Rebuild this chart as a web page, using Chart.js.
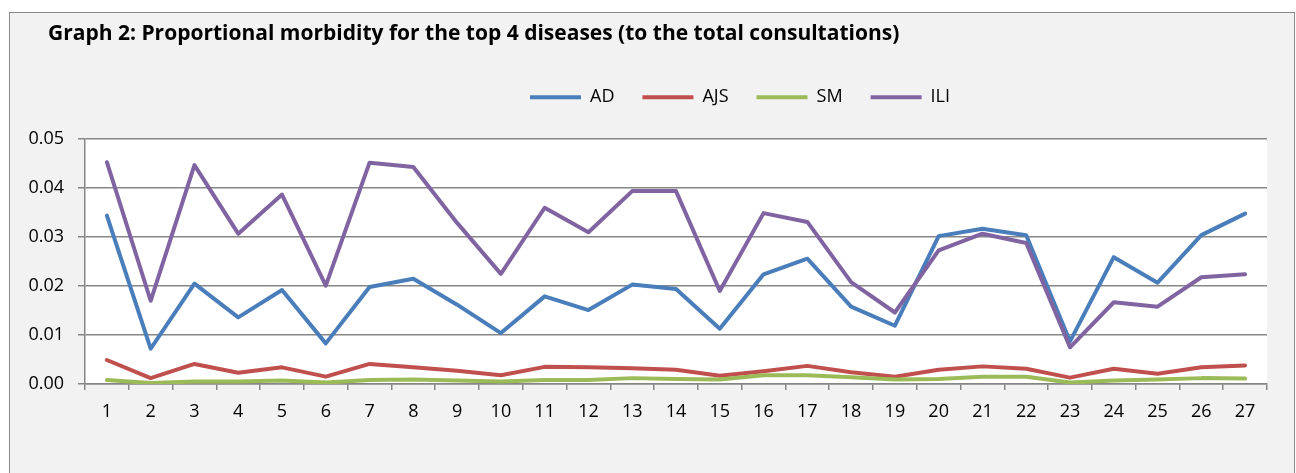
<!DOCTYPE html>
<html>
<head>
<meta charset="utf-8">
<script src="https://cdn.jsdelivr.net/npm/chart.js@4"></script>
<style>
  html, body { margin:0; padding:0; background:#ffffff; overflow:hidden; }
  #frame { position:absolute; left:9px; top:12px; width:1284px; height:480px; border:1px solid #898989; background:#f2f2f2; }
  #c { position:absolute; left:0; top:0; }
</style>
</head>
<body>
<div id="frame"></div>
<canvas id="c" width="1296" height="473"></canvas>
<script>
/* Graph 2 — proportional morbidity, top 4 diseases */
const WEEKS = ['1','2','3','4','5','6','7','8','9','10','11','12','13','14','15','16','17','18','19','20','21','22','23','24','25','26','27'];
const AD  = [0.0344,0.0072,0.0205,0.0136,0.0192,0.0083,0.0198,0.0215,0.0162,0.0104,0.0179,0.0151,0.0203,0.0194,0.0113,0.0224,0.0256,0.0158,0.0119,0.0302,0.0317,0.0304,0.0087,0.0259,0.0207,0.0304,0.0348];
const AJS = [0.0049,0.0012,0.0041,0.0023,0.0034,0.0015,0.0041,0.0034,0.0027,0.0018,0.0035,0.0034,0.0032,0.0029,0.0017,0.0026,0.0037,0.0024,0.0015,0.0029,0.0036,0.0031,0.0013,0.0031,0.0021,0.0034,0.0038];
const SM  = [0.0008,0.0002,0.0005,0.0005,0.0007,0.0003,0.0008,0.0009,0.0007,0.0005,0.0008,0.0008,0.0012,0.0010,0.0009,0.0018,0.0018,0.0014,0.0009,0.0010,0.0015,0.0015,0.0003,0.0007,0.0009,0.0012,0.0011];
const ILI = [0.0453,0.0170,0.0447,0.0307,0.0387,0.0201,0.0452,0.0443,0.0329,0.0225,0.0360,0.0310,0.0394,0.0394,0.0190,0.0349,0.0331,0.0208,0.0146,0.0273,0.0307,0.0288,0.0075,0.0167,0.0158,0.0218,0.0224];
const Y_TICKS = ['0.00','0.01','0.02','0.03','0.04','0.05'];

const FONT = '"Open Sans", Lato, sans-serif';
const GRID = '#868686';

function series(label, data, color, order){
  return { label, data, borderColor: color, backgroundColor: color, borderWidth: 4,
    borderCapStyle: 'round', borderJoinStyle: 'round', pointRadius: 0, tension: 0, order };
}

// white plot area
const plotBg = {
  id: 'plotBg',
  beforeDraw(chart){
    const a = chart.chartArea, ctx = chart.ctx;
    ctx.save(); ctx.fillStyle = '#ffffff';
    ctx.fillRect(a.left, a.top, a.right - a.left, a.bottom - a.top);
    ctx.restore();
  }
};
// nudge title and legend to where Excel put them
const boxPos = {
  id: 'boxPos',
  afterLayout(chart){
    const t = chart.titleBlock;
    if (t){ t.left += 28; t.right += 28; }
    const lg = chart.legend; if (!lg) return;
    const pad = lg.options.labels.padding;
    const startX = (lg.left + pad + lg.right - lg.lineWidths[0]) / 2;
    const dx = 530 - startX, dy = -23;
    lg.left += dx; lg.right += dx; lg.top += dy; lg.bottom += dy;
  }
};

new Chart(document.getElementById('c'), {
  type: 'line',
  data: {
    labels: WEEKS,
    datasets: [
      series('AD', AD, '#4a7ebb', 3),
      series('AJS', AJS, '#c0504d', 2),
      series('SM', SM, '#9bbb59', 1),
      series('ILI', ILI, '#8064a2', 0)
    ]
  },
  options: {
    responsive: false,
    animation: false,
    layout: { padding: { left: 20, right: 29, top: 12, bottom: 29 } },
    plugins: {
      title: { display: true, text: 'Graph 2: Proportional morbidity for the top 4 diseases (to the total consultations)',
        align: 'start', color: '#000', font: { family: FONT, size: 21, weight: 'bold' }, padding: { top: 9, bottom: 37 } },
      legend: { position: 'top', align: 'center',
        labels: { usePointStyle: true, pointStyle: 'line', pointStyleWidth: 51, color: '#000', padding: 28,
          font: { family: FONT, size: 18 }, sort: (a, b) => a.datasetIndex - b.datasetIndex } },
      tooltip: { enabled: false }
    },
    scales: {
      x: {
        offset: true,
        grid: { offset: true, drawOnChartArea: false, drawTicks: true, tickLength: 6, color: GRID, lineWidth: 1.5 },
        border: { display: true, color: GRID, width: 1.5 },
        ticks: { color: '#000', font: { family: FONT, size: 18 }, padding: 11, maxRotation: 0, autoSkip: false },
        afterFit: s => { s.height = 60; }
      },
      y: {
        min: 0, max: 0.05,
        grid: { color: GRID, lineWidth: 1.5, tickLength: 7 },
        border: { display: true, color: GRID, width: 1.5 },
        ticks: { stepSize: 0.01, color: '#000', font: { family: FONT, size: 18 }, padding: 14,
          callback: (v, i) => Y_TICKS[i] },
        afterFit: s => { s.width = 65; }
      }
    }
  },
  plugins: [plotBg, boxPos]
});
</script>
</body>
</html>
